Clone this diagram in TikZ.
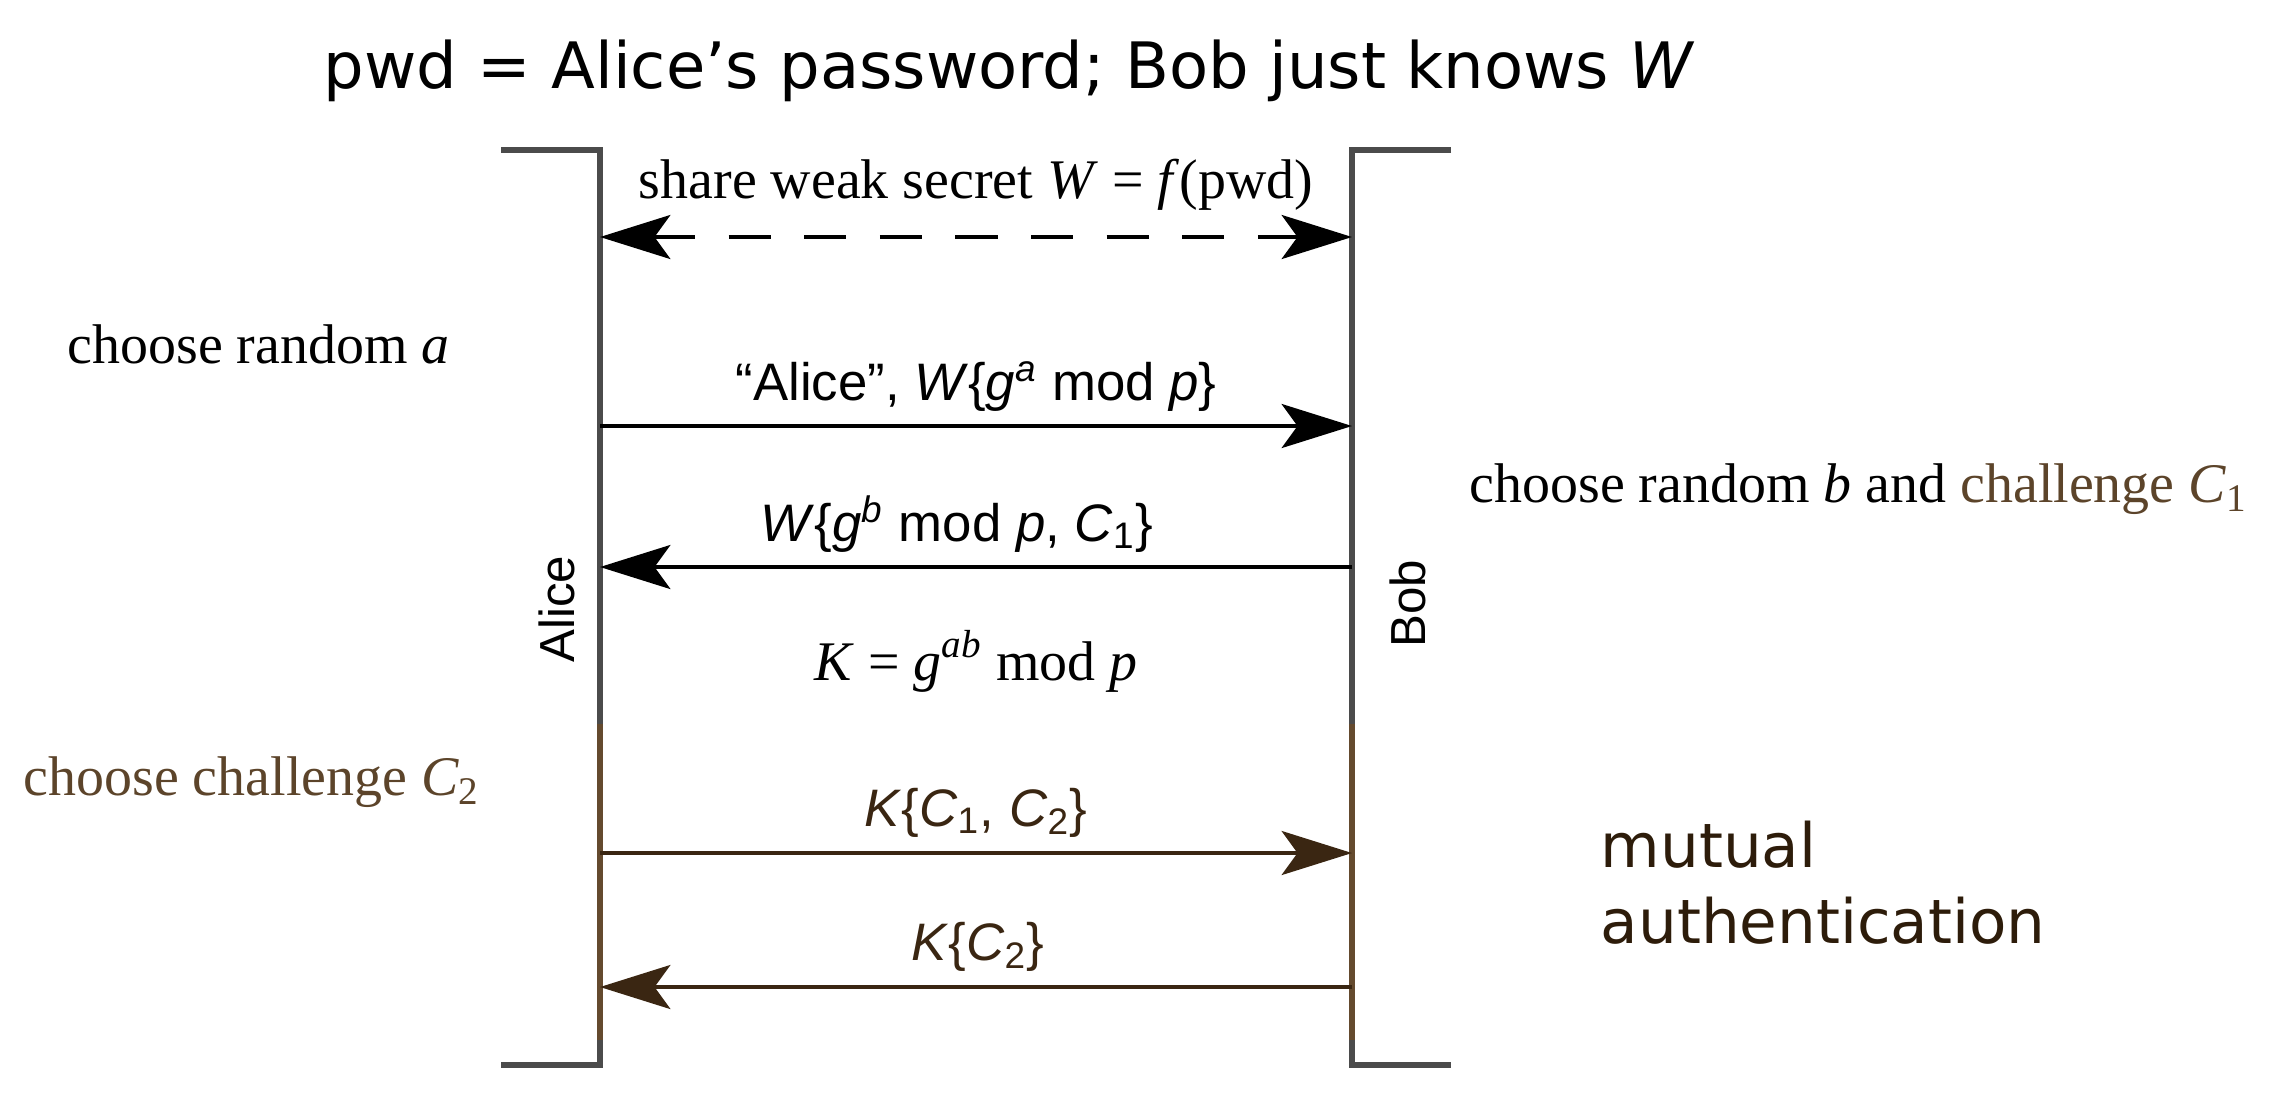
\documentclass[tikz,border=0pt]{standalone}
\usepackage{fontspec}
\setmainfont{Liberation Serif}
\newfontfamily\labelfont{Liberation Sans}
\newfontfamily\notefont{DejaVu Sans}
\usetikzlibrary{arrows.meta}
\definecolor{lifegray}{RGB}{75,75,75}
\definecolor{lifebrown}{RGB}{100,74,46}
\definecolor{msgbrown}{RGB}{58,38,18}
\definecolor{notebrown}{RGB}{92,68,42}
\definecolor{authbrown}{RGB}{45,28,10}
\newcommand{\alicex}{600}
\newcommand{\bobx}{1352}
\newcommand{\bracketlen}{99}
\newcommand{\msgx}{976}
\tikzset{
    lifeline/.style={lifegray, line width=1.5pt, line join=miter},
    msg/.style={line width=1.2pt, -{Stealth[length=20pt, width=12.5pt, inset=4.5pt]}},
    twoway/.style={msg, {Stealth[length=20pt, width=12.5pt, inset=4.5pt]}-{Stealth[length=20pt, width=12.5pt, inset=4.5pt]}},
    msglabel/.style={anchor=base, inner sep=0pt, font=\labelfont\fontsize{15}{18}\selectfont},
    note/.style={anchor=base west, inner sep=0pt, font=\fontsize{15.9}{19}\selectfont},
    party/.style={anchor=base, rotate=90, inner sep=0pt, font=\labelfont\fontsize{14}{17}\selectfont}
}

\begin{document}
\begin{tikzpicture}[x=0.01cm, y=0.01cm]
    \useasboundingbox (0,0) rectangle (2280,-1102);

    % lifelines
    \coordinate (alice-top) at (\alicex,-150);
    \coordinate (bob-top) at (\bobx,-150);
    \coordinate (alice-bot) at (\alicex,-1065);
    \coordinate (bob-bot) at (\bobx,-1065);
    \coordinate (brown-start) at (0,-724);
    \coordinate (brown-end) at (0,-1040);

    \draw[lifeline] (alice-top) ++(-\bracketlen,0) -- (alice-top) -- (alice-top |- brown-start);
    \draw[lifeline, lifebrown] (alice-top |- brown-start) -- (alice-top |- brown-end);
    \draw[lifeline] (alice-top |- brown-end) -- (alice-bot) -- ++(-\bracketlen,0);
    \draw[lifeline] (bob-top) ++(\bracketlen,0) -- (bob-top) -- (bob-top |- brown-start);
    \draw[lifeline, lifebrown] (bob-top |- brown-start) -- (bob-top |- brown-end);
    \draw[lifeline] (bob-top |- brown-end) -- (bob-bot) -- ++(\bracketlen,0);

    \node[party] (alice) at (574,-609) {Alice};
    \node[party] (bob) at (1425,-604) {Bob};

    % rows of the protocol
    \coordinate (row0) at (0,-237);
    \coordinate (row1) at (0,-426);
    \coordinate (row2) at (0,-567);
    \coordinate (row3) at (0,-853);
    \coordinate (row4) at (0,-987);

    \node[anchor=base west, inner sep=0pt, font=\notefont\fontsize{18.2}{22}\selectfont] (title) at (323,-88)
        {pwd = Alice’s password; Bob just knows \textit{W}};

    \node[note, anchor=base] (shared) at (\msgx,-198) {share weak secret \textit{W} = \textit{f}(pwd)};
    \draw[twoway, dash pattern=on 12pt off 9.5pt] (alice-top |- row0) -- (bob-top |- row0);

    \node[note] (choose-a) at (67,-363) {choose random \textit{a}};
    \node[msglabel] (hello) at (\msgx,-400) {“Alice”, \textit{W}\{\textit{g}\textsuperscript{\textit{a}} mod \textit{p}\}};
    \draw[msg] (alice-top |- row1) -- (bob-top |- row1);

    \node[note] (choose-b) at (1469,-502) {choose random \textit{b} and {\color{notebrown}challenge \textit{C}\textsubscript{1}}};
    \node[msglabel] (reply) at (957,-541) {\textit{W}\{\textit{g}\textsuperscript{\textit{b}} mod \textit{p}, \textit{C}\textsubscript{1}\}};
    \draw[msg] (bob-top |- row2) -- (alice-top |- row2);

    \node[note, anchor=base] (key) at (\msgx,-680) {\textit{K} = \textit{g}\textsuperscript{\textit{ab}} mod \textit{p}};

    \node[note, notebrown] (choose-c) at (23,-795) {choose challenge \textit{C}\textsubscript{2}};
    \node[msglabel, msgbrown] (both) at (\msgx,-826) {\textit{K}\{\textit{C}\textsubscript{1}, \textit{C}\textsubscript{2}\}};
    \draw[msg, msgbrown] (alice-top |- row3) -- (bob-top |- row3);
    \node[msglabel, msgbrown] (second) at (978,-960) {\textit{K}\{\textit{C}\textsubscript{2}\}};
    \draw[msg, msgbrown] (bob-top |- row4) -- (alice-top |- row4);

    \node[anchor=base west, inner sep=0pt, align=left, authbrown, font=\notefont\fontsize{17.4}{21.6}\selectfont] (mutual) at (1600,-943)
        {mutual\\authentication};
\end{tikzpicture}
\end{document}
